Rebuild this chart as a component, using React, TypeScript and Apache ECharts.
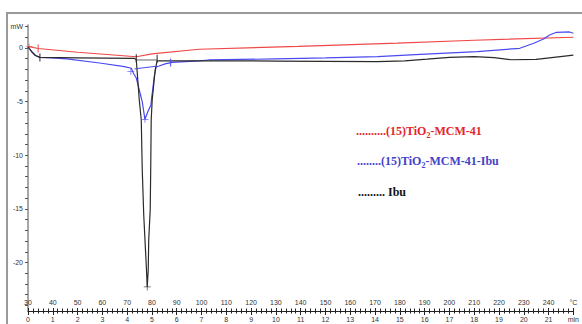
import React, { useEffect, useRef } from 'react';
import * as echarts from 'echarts';

// ---- tick labels ----
const timeLabels = ['0','1','2','3','4','5','6','7','8','9','10','11','12','13','14','15','16','17','18','19','20','21','min'];
const tempLabels = ['30','40','50','60','70','80','90','100','110','120','130','140','150','160','170','180','190','200','210','220','230','240','°C'];
const yTickValues = [2,1,0,-1,-2,-3,-4,-5,-6,-7,-8,-9,-10,-11,-12,-13,-14,-15,-16,-17,-18,-19,-20,-21,-22,-23,-24];
const yLabelValues = [2,0,-5,-10,-15,-20];
const yLabelTexts = ['mW','0','-5','-10','-15','-20'];

// ---- series (time in min, heat flow in mW) ----
const redTime = [0, 0.41, 2.0, 4.37, 5.0, 6.9, 10.9, 14.9, 18.0, 22.0];
const redValues = [0.15, -0.05, -0.4, -0.82, -0.55, -0.12, 0.15, 0.45, 0.72, 1.0];

const blueTime = [0, 0.15, 0.3, 0.48, 0.96, 1.56, 2.89, 3.89, 4.168, 4.249, 4.369, 4.489, 4.609, 4.717, 4.83, 4.958, 4.99, 5.03, 5.09, 5.17, 5.291, 5.531, 5.812, 6.894, 7.295, 10.0, 12.0, 14.1, 15.83, 18.12, 19.84, 20.4, 20.8, 21.04, 21.32, 21.84, 22.0];
const blueValues = [0.1, -0.35, -0.7, -0.88, -0.93, -1.02, -1.4, -1.74, -1.89, -2.33, -2.8, -3.92, -5.03, -6.65, -5.97, -5.31, -4.57, -3.92, -2.7, -1.77, -1.68, -1.49, -1.35, -1.21, -1.12, -1.02, -0.93, -0.81, -0.59, -0.34, -0.03, 0.44, 0.84, 1.21, 1.46, 1.49, 1.37];

const blackTime = [0, 0.15, 0.3, 0.48, 2.0, 4.3, 4.369, 4.489, 4.569, 4.609, 4.669, 4.729, 4.77, 4.81, 4.85, 4.87, 4.93, 4.95, 4.97, 5.01, 5.13, 5.21, 6.0, 8.0, 10.0, 12.0, 14.1, 15.2, 16.1, 17.0, 18.0, 18.8, 19.5, 20.5, 21.3, 22.0];
const blackValues = [0.1, -0.35, -0.7, -0.88, -0.92, -0.97, -1.12, -4.85, -6.71, -11.37, -15.57, -18.37, -20.23, -22.28, -20.7, -17.9, -15.1, -11.38, -6.71, -4.85, -2.05, -1.21, -1.2, -1.2, -1.22, -1.25, -1.28, -1.2, -1.05, -0.88, -0.8, -0.9, -1.1, -1.07, -0.85, -0.67];

// baselines under the peaks
const blackBaseTime = [4.37, 5.21];
const blackBaseValues = [-1.12, -1.12];
const blueBaseTime = [4.3, 5.2];
const blueBaseValues = [-1.95, -1.7];

// analysis markers
const redTickTime = [0.41];
const redTickValues = [-0.05];
const redPlusTime = [0.05];
const redPlusValues = [0.12];
const blackTickTime = [0.48, 4.37, 5.21];
const blackTickValues = [-0.88, -0.95, -1.0];
const blueTickTime = [5.75];
const blueTickValues = [-1.36];
const bluePlusTime = [4.15, 4.717];
const bluePlusValues = [-2.2, -6.65];
const blackPlusTime = [4.81];
const blackPlusValues = [-22.28];

const zip = (t: number[], v: number[]) => t.map((x, i) => [x, v[i]]);

const RED = '#f04848';
const BLUE = '#4a4af0';
const BLACK = '#2a2a2a';
const PLUS = 'path://M4,0h1v4h4v1h-4v4h-1v-4h-4v-1h4z';

export default function App() {
  const ref = useRef<HTMLDivElement>(null);
  useEffect(() => {
    if (!ref.current) return;
    const chart = echarts.init(ref.current, undefined, { renderer: 'svg' });
    const labelFont = { fontSize: 7, fontFamily: 'Liberation Sans', color: '#333' };
    const legendFont = 'Liberation Serif';
    const mk = (color: string) => ({
      d: { fontSize: 12, fontWeight: 'bold', fontFamily: legendFont, fill: color, verticalAlign: 'top', lineHeight: 14 },
      s: { fontSize: 8, fontWeight: 'bold', fontFamily: legendFont, fill: color, verticalAlign: 'top', lineHeight: 8, padding: [6, 0, 0, 0] },
    });
    const lineSeries = (name: string, data: number[][], color: string, width = 1.2) => ({
      name, type: 'line', data, symbol: 'none', lineStyle: { color, width }, itemStyle: { color }, z: 3,
    });
    const scatter = (data: number[][], color: string, symbol: any, size: any) => ({
      type: 'scatter', data, symbol, symbolSize: size, itemStyle: { color }, z: 4,
    });
    chart.setOption({
      animation: false,
      grid: { left: 28, right: 5, top: 25, bottom: 13, containLabel: false },
      xAxis: [
        {
          type: 'value', min: 0, max: 22, interval: 1, position: 'bottom',
          axisLine: { onZero: false, lineStyle: { color: '#222', width: 1 } },
          axisTick: { show: true, length: 4, lineStyle: { color: '#222' } },
          minorTick: { show: true, splitNumber: 5, length: 2.5, lineStyle: { color: '#222' } },
          splitLine: { show: false },
          axisLabel: { ...labelFont, margin: 5, formatter: (v: number) => timeLabels[Math.round(v)] ?? '' },
        },
        {
          type: 'value', min: 0, max: 22, interval: 1, position: 'bottom',
          axisLine: { onZero: false, show: false },
          axisTick: { show: true, inside: true, length: 3, lineStyle: { color: '#222' } },
          minorTick: { show: true, splitNumber: 5, length: 2.5, lineStyle: { color: '#222' } },
          splitLine: { show: false },
          axisLabel: { ...labelFont, inside: true, margin: 5, formatter: (v: number) => tempLabels[Math.round(v)] ?? '' },
        },
      ],
      yAxis: {
        type: 'value', min: -24.52, max: 2.14,
        axisLine: { show: true, onZero: false, lineStyle: { color: '#8a8a8a', width: 1.5 } },
        axisTick: { show: true, length: 3, customValues: yTickValues, lineStyle: { color: '#555' } },
        splitLine: { show: false },
        axisLabel: {
          ...labelFont, margin: 5, customValues: yLabelValues,
          formatter: (v: number) => yLabelTexts[yLabelValues.indexOf(Math.round(v))] ?? '',
        },
      },
      graphic: [
        { type: 'rect', shape: { x: 7, y: 13, width: 600, height: 400 }, style: { fill: 'none', stroke: '#9a9a9a', lineWidth: 2 }, silent: true, z: -1 },
        { type: 'text', x: 356, y: 125, style: { text: '{d|..........(15)TiO}{s|2}{d|-MCM-41}', rich: mk('#e4262c') } },
        { type: 'text', x: 357, y: 155, style: { text: '{d|........(15)TiO}{s|2}{d|-MCM-41-Ibu}', rich: mk('#4343c8') } },
        { type: 'text', x: 358, y: 186, style: { text: '{d|......... Ibu}', rich: mk('#111') } },
      ],
      series: [
        lineSeries('(15)TiO2-MCM-41', zip(redTime, redValues), RED),
        lineSeries('(15)TiO2-MCM-41-Ibu', zip(blueTime, blueValues), BLUE),
        lineSeries('Ibu', zip(blackTime, blackValues), BLACK),
        lineSeries('Ibu baseline', zip(blackBaseTime, blackBaseValues), '#666', 1),
        lineSeries('Ibu-loaded baseline', zip(blueBaseTime, blueBaseValues), BLUE, 1),
        scatter(zip(redTickTime, redTickValues), RED, 'rect', [1.3, 8]),
        scatter(zip(redPlusTime, redPlusValues), RED, PLUS, 6),
        scatter(zip(blackTickTime, blackTickValues), BLACK, 'rect', [1.3, 8]),
        scatter(zip(blueTickTime, blueTickValues), BLUE, 'rect', [1.3, 8]),
        scatter(zip(bluePlusTime, bluePlusValues), BLUE, PLUS, 7),
        scatter(zip(blackPlusTime, blackPlusValues), BLACK, PLUS, 7),
      ],
    });
    return () => chart.dispose();
  }, []);
  return <div ref={ref} style={{ position: 'absolute', left: 0, top: 0, width: 582, height: 324 }} />;
}
